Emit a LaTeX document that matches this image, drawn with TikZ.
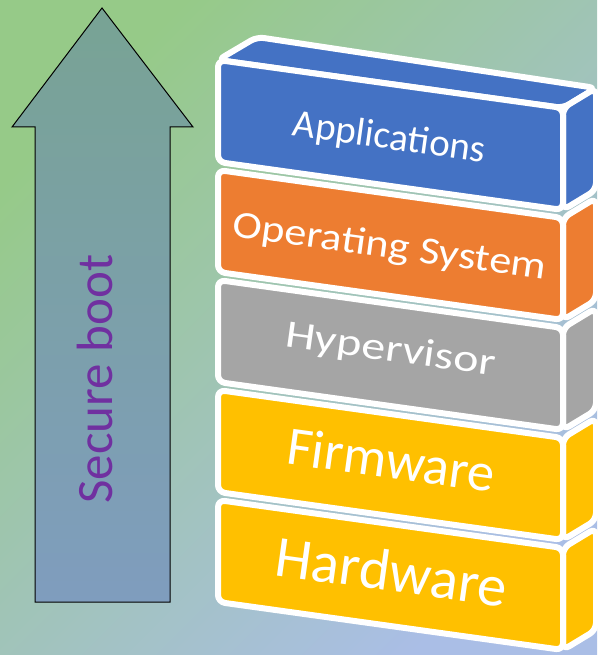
\documentclass[tikz,border=0pt]{standalone}
\usepackage{fontspec}
\setmainfont{Carlito}
\definecolor{bgGreen}{RGB}{150,202,136}
\definecolor{bgBlue}{RGB}{170,190,230}
\definecolor{arrowTop}{RGB}{120,163,148}
\definecolor{arrowBottom}{RGB}{127,157,190}
\definecolor{appColor}{RGB}{68,114,196}
\definecolor{osColor}{RGB}{237,125,49}
\definecolor{hypColor}{RGB}{165,165,165}
\definecolor{fwColor}{RGB}{255,192,0}
\definecolor{bootColor}{RGB}{112,48,160}
\tikzset{face/.style={draw=white, line width=6pt, rounded corners=7pt, line join=round}}
\tikzset{layer/.style={text=white, rotate=-7.9, inner sep=0pt, anchor=base}}

\begin{document}
\begin{tikzpicture}[x=1pt, y=-1pt]
% Background
\shade[top color=bgGreen, bottom color=bgBlue, shading angle=45] (0,0) rectangle (597,655);
\useasboundingbox (0,0) rectangle (597,655);

% Arrow
\draw[top color=arrowTop, bottom color=arrowBottom, draw=black, line width=1pt]
  (35,602) -- (35,127) -- (12,127) -- (102,8) -- (193,127) -- (170,127) -- (170,602) -- cycle;
\node (boot) [rotate=90, anchor=base, inner sep=0pt, text=bootColor, font=\fontsize{51}{60}\selectfont] at (112,379) {Secure boot};

% Stack
\fill[face, fill=appColor] (218,60) -- (257,37) -- (596,88) -- (563,108) -- cycle;
\fill[face, fill=appColor] (563,108) -- (596,88) -- (596,190) -- (563,210) -- cycle;
\fill[face, fill=appColor] (218,60) -- (563,108) -- (563,210) -- (218,162) -- cycle;
\node (apps) [layer, font=\fontsize{39}{45}\selectfont] at (388,149) {Applications};

\fill[face, fill=osColor] (563,218) -- (596,198) -- (596,300) -- (563,320) -- cycle;
\fill[face, fill=osColor] (218,170) -- (563,218) -- (563,320) -- (218,272) -- cycle;
\node (os) [layer, xscale=1.15, font=\fontsize{38.5}{45}\selectfont] at (388,258) {Operating System};

\fill[face, fill=hypColor] (563,328) -- (596,308) -- (596,410) -- (563,430) -- cycle;
\fill[face, fill=hypColor] (218,280) -- (563,328) -- (563,430) -- (218,382) -- cycle;
\node (hyp) [layer, xscale=1.23, font=\fontsize{39}{45}\selectfont] at (389,361) {Hypervisor};

\fill[face, fill=fwColor] (563,438) -- (596,418) -- (596,520) -- (563,540) -- cycle;
\fill[face, fill=fwColor] (218,390) -- (563,438) -- (563,540) -- (218,492) -- cycle;
\node (firmware) [layer, font=\fontsize{54.5}{60}\selectfont] at (389,478) {Firmware};

\fill[face, fill=fwColor] (563,548) -- (596,528) -- (596,630) -- (563,650) -- cycle;
\fill[face, fill=fwColor] (218,500) -- (563,548) -- (563,650) -- (218,602) -- cycle;
\node (hardware) [layer, font=\fontsize{58.5}{64}\selectfont] at (389,591) {Hardware};

\end{tikzpicture}
\end{document}
